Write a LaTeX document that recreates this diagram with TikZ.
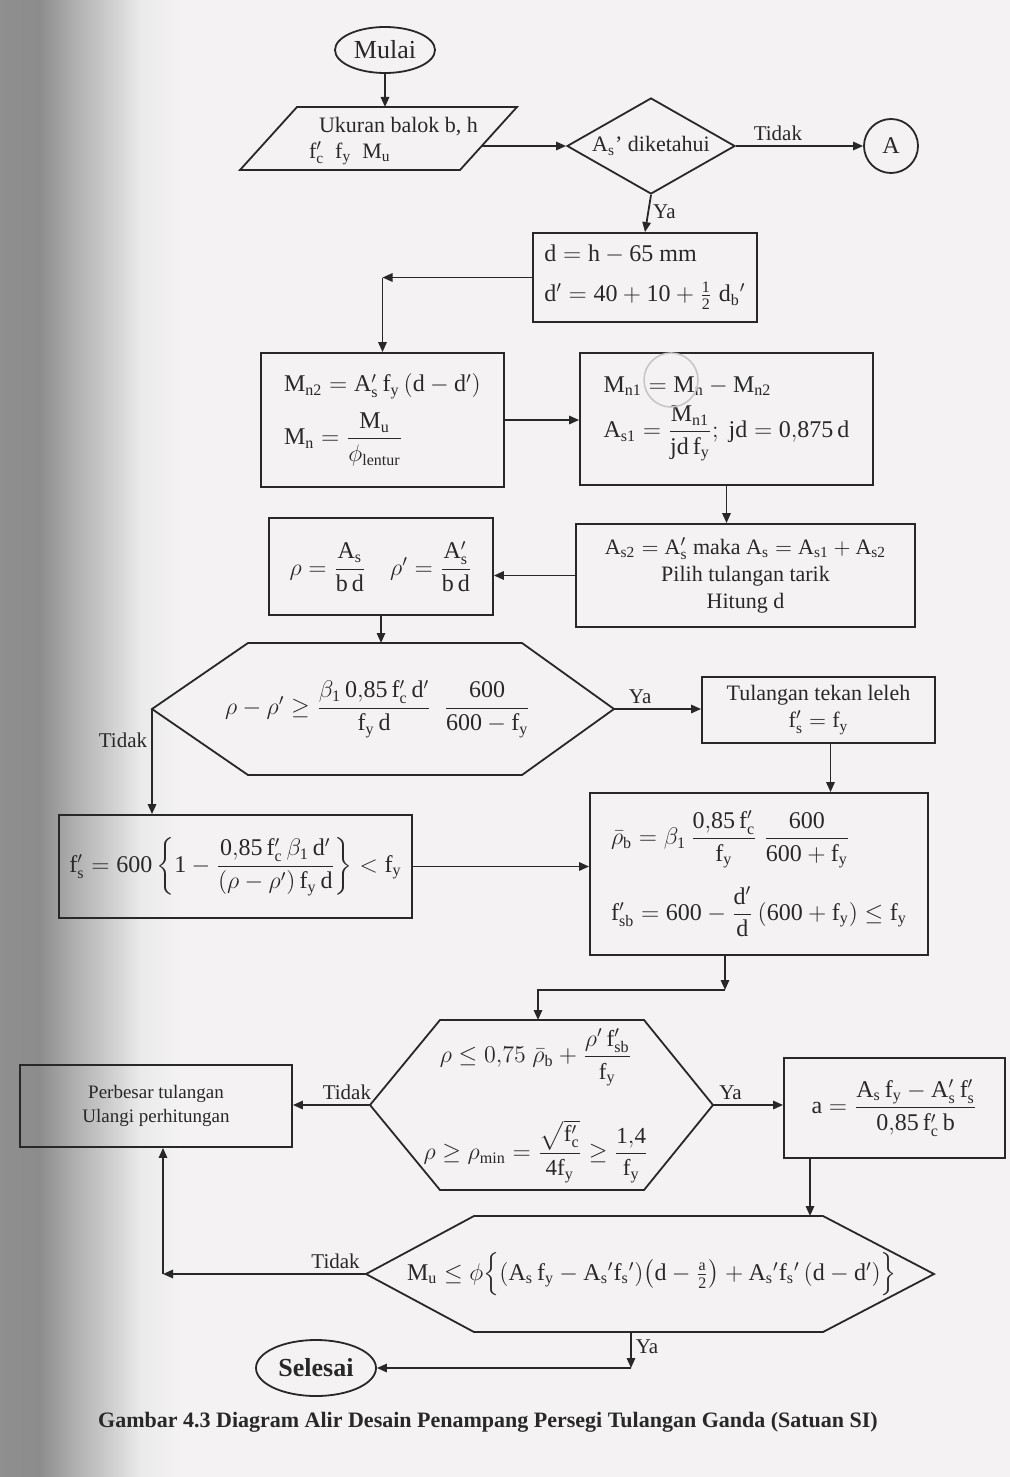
\documentclass[tikz,border=0pt]{standalone}
\usepackage{amsmath}
\usepackage{fontspec}
\setmainfont{Liberation Serif}
\usetikzlibrary{arrows.meta,shapes.geometric}
\definecolor{paper}{RGB}{244,242,242}
\definecolor{ink}{RGB}{40,40,40}
\pgfdeclarehorizontalshading{scanedge}{100bp}{color(0bp)=(black!44); color(25bp)=(black!44); color(36bp)=(black!45); color(45bp)=(black!32); color(55bp)=(black!20); color(64bp)=(black!8); color(75bp)=(paper); color(100bp)=(paper)}
\begin{document}
\begin{tikzpicture}[x=0.5pt,y=-0.5pt,
  every node/.style={text=ink},
  inkline/.style={draw=ink, line width=0.9pt},
  conn/.style={inkline, -{Triangle[length=5pt,width=4.2pt]}},
  pbox/.style={inkline, rectangle, inner sep=0pt},
  txt/.style={font=\fontsize{11}{13.5}\selectfont},
  fml/.style={font=\fontsize{12}{14}\selectfont},
  lbl/.style={font=\fontsize{10.5}{12}\selectfont, inner sep=2pt}]
\useasboundingbox (0,0) rectangle (1010,1477);
\fill[paper] (0,0) rectangle (1010,1477);
\shade[shading=scanedge] (0,0) rectangle (180,1477);

% ---- start
\node[inkline, ellipse, minimum width=50pt, minimum height=23pt, inner sep=0pt, font=\fontsize{13}{15}\selectfont] (mulai) at (385,50) {Mulai};

% ---- input
\coordinate (pTL) at (297,107); \coordinate (pTR) at (517,107);
\coordinate (pBR) at (460,170); \coordinate (pBL) at (240,170);
\draw[inkline] (pTL) -- (pTR) -- (pBR) -- (pBL) -- cycle;
\coordinate (pT) at (385,107);
\coordinate (pR) at (481,146);
\node[txt, anchor=west] (in1) at (312,127) {Ukuran balok b, h};
\node[txt, anchor=west] (in2) at (302,153) {$\mathrm{f_c'\ \ f_y\ \ M_u}$};

% ---- decision As'
\node[inkline, diamond, aspect=1.75, minimum width=84pt, minimum height=48pt, inner sep=0pt, txt] (dk) at (651,146) {$\mathrm{A_s}$' diketahui};
\node[inkline, circle, minimum size=27pt, inner sep=0pt, font=\fontsize{12}{14}\selectfont] (A) at (891,146) {A};

% ---- d box
\node[pbox, fml, align=left, minimum width=112pt, minimum height=44.5pt] (dbox) at (645,277.5)
 {$\mathrm{d = h - 65\ mm}$\\[6pt] $\mathrm{d' = 40 + 10 + \tfrac{1}{2}\;d_b{}'}$};

% ---- Mn2 box
\node[pbox, fml, align=left, minimum width=121.5pt, minimum height=67pt] (mn2) at (382.5,420)
 {$\mathrm{M_{n2} = A_s'\,f_y\,(d - d')}$\\[6pt] $\mathrm{M_n = \dfrac{M_u}{\phi_{lentur}}}$};

% ---- Mn1 box
\node[pbox, fml, align=left, minimum width=146.5pt, minimum height=66pt] (mn1) at (726.5,419)
 {$\mathrm{M_{n1} = M_n - M_{n2}}$\\[4pt] $\mathrm{A_{s1} = \dfrac{M_{n1}}{jd\,f_y};\ jd = 0{,}875\,d}$};
\draw[black!22, line width=0.8pt] (671,380) circle[radius=27];

% ---- As2 box
\node[pbox, txt, align=center, minimum width=169.5pt, minimum height=51.5pt] (as2) at (745.5,575.5)
 {$\mathrm{A_{s2} = A_s'}$ maka $\mathrm{A_s = A_{s1} + A_{s2}}$\\ Pilih tulangan tarik\\ Hitung d};

% ---- rho box
\node[pbox, fml, minimum width=112pt, minimum height=48.5pt] (rho) at (381,566.5)
 {$\rho = \dfrac{\mathrm{A_s}}{\mathrm{b\,d}}\quad \rho' = \dfrac{\mathrm{A_s'}}{\mathrm{b\,d}}$};

% ---- hexagon 1
\coordinate (h1L) at (152,709); \coordinate (h1TL) at (248,643); \coordinate (h1TR) at (522,643);
\coordinate (h1R) at (614,709); \coordinate (h1BR) at (522,775); \coordinate (h1BL) at (248,775);
\draw[inkline] (h1L) -- (h1TL) -- (h1TR) -- (h1R) -- (h1BR) -- (h1BL) -- cycle;
\coordinate (h1T) at (381,643);
\node[fml] (h1) at (378,709)
 {$\rho - \rho' \ge \dfrac{\mathrm{\beta_1\,0{,}85\,f_c'\,d'}}{\mathrm{f_y\,d}}\ \ \dfrac{\mathrm{600}}{\mathrm{600 - f_y}}$};

% ---- Tulangan box
\node[pbox, txt, align=center, minimum width=116.5pt, minimum height=33pt] (tul) at (818.5,710)
 {Tulangan tekan leleh\\ $\mathrm{f_s' = f_y}$};

% ---- fs box
\node[pbox, fml, minimum width=176.5pt, minimum height=51.5pt] (fs) at (235.5,866.5)
 {$\mathrm{f_s' = 600\left\{1 - \dfrac{0{,}85\,f_c'\,\beta_1\,d'}{(\rho - \rho')\,f_y\,d}\right\} < f_y}$};

% ---- rho_b box
\node[pbox, fml, align=left, minimum width=169pt, minimum height=81pt] (rhob) at (759,874)
 {$\bar{\rho}_{\mathrm b} = \mathrm{\beta_1\,\dfrac{0{,}85\,f_c'}{f_y}\ \dfrac{600}{600 + f_y}}$\\[8pt]
  $\mathrm{f_{sb}' = 600 - \dfrac{d'}{d}\left(600 + f_y\right) \le f_y}$};

% ---- hexagon 2
\coordinate (h2L) at (370,1105); \coordinate (h2TL) at (440,1020); \coordinate (h2TR) at (644,1020);
\coordinate (h2R) at (713,1105); \coordinate (h2BR) at (644,1190); \coordinate (h2BL) at (440,1190);
\draw[inkline] (h2L) -- (h2TL) -- (h2TR) -- (h2R) -- (h2BR) -- (h2BL) -- cycle;
\coordinate (h2T) at (538,1020);
\node[font=\fontsize{11.5}{13.5}\selectfont, align=center] (h2) at (536,1106)
 {$\rho \le 0{,}75\;\bar{\rho}_{\mathrm b} + \dfrac{\rho'\,\mathrm{f_{sb}'}}{\mathrm{f_y}}$\\[16pt]
  $\rho \ge \rho_{\mathrm{min}} = \dfrac{\sqrt{\mathrm{f_c'}}}{\mathrm{4f_y}} \ge \dfrac{\mathrm{1{,}4}}{\mathrm{f_y}}$};

% ---- Perbesar box
\node[pbox, font=\fontsize{9.5}{12}\selectfont, align=center, minimum width=136pt, minimum height=41pt] (pb) at (156,1106)
 {Perbesar tulangan\\ Ulangi perhitungan};

% ---- box a
\node[pbox, fml, minimum width=110.5pt, minimum height=50pt] (ba) at (894.5,1108)
 {$\mathrm{a = \dfrac{A_s\,f_y - A_s'\,f_s'}{0{,}85\,f_c'\,b}}$};

% ---- hexagon 3
\coordinate (h3L) at (366,1274); \coordinate (h3TL) at (474,1216); \coordinate (h3TR) at (823,1216);
\coordinate (h3R) at (934,1274); \coordinate (h3BR) at (823,1332); \coordinate (h3BL) at (474,1332);
\draw[inkline] (h3L) -- (h3TL) -- (h3TR) -- (h3R) -- (h3BR) -- (h3BL) -- cycle;
\coordinate (h3T) at (810,1216); \coordinate (h3B) at (631,1332);
\node[fml] (h3) at (652,1274)
 {$\mathrm{M_u \le \phi\Big\{\!\left(A_s\,f_y - A_s{}'f_s{}'\right)\!\left(d - \tfrac{a}{2}\right) + A_s{}'f_s{}'\left(d - d'\right)\!\Big\}}$};

% ---- end
\node[inkline, ellipse, minimum width=60pt, minimum height=28pt, inner sep=0pt, font=\fontsize{13}{15}\selectfont\bfseries] (sel) at (316,1368) {Selesai};

% ---- caption
\node[font=\fontsize{11}{13}\selectfont\bfseries] (cap) at (488,1422)
 {Gambar 4.3 Diagram Alir Desain Penampang Persegi Tulangan Ganda (Satuan SI)};

% ---- connectors
\draw[conn] (mulai.south) -- (pT);
\draw[conn] (pR) -- (dk.west);
\draw[conn] (dk.east) -- node[lbl, above, pos=0.33] {Tidak} (A.west);
\draw[conn] (dk.south) -- node[lbl, right, pos=0.45] {Ya} (dbox.north);
\coordinate (c1) at (dbox.west -| mn2.north);
\draw[conn] (dbox.west) -- (c1);
\draw[conn] (c1) -- (mn2.north);
\draw[conn] (mn2.east) -- (mn2.east -| mn1.west);
\draw[conn] (mn1.south) -- (mn1.south |- as2.north);
\draw[conn] (as2.west) -- (as2.west -| rho.east);
\draw[conn] (rho.south) -- (h1T);
\draw[conn] (h1R) -- node[lbl, above, pos=0.3] {Ya} (h1R -| tul.west);
\draw[conn] (h1L) -- node[lbl, left, pos=0.3] {Tidak} (h1L |- fs.north);
\draw[conn] ([xshift=6pt]tul.south) -- ([xshift=6pt]tul.south |- rhob.north);
\draw[conn] (fs.east) -- (fs.east -| rhob.west);
\coordinate (c2) at (725,990); \coordinate (c3) at (538,990);
\draw[conn] (rhob.south -| c2) -- (c2);
\draw[conn] (c2) -- (c3) -- (h2T);
\draw[conn] (h2L) -- node[lbl, above, pos=0.3] {Tidak} (h2L -| pb.east);
\draw[conn] (h2R) -- node[lbl, above, pos=0.25] {Ya} (h2R -| ba.west);
\draw[conn] (ba.south -| h3T) -- (h3T);
\coordinate (c4) at (163,1274);
\draw[conn] (h3L) -- node[lbl, above, pos=0.15] {Tidak} (c4);
\draw[conn] (c4) -- (c4 |- pb.south);
\coordinate (c5) at (631,1368);
\draw[conn] (h3B) -- node[lbl, right, pos=0.4] {Ya} (c5);
\draw[conn] (c5) -- (sel.east);
\end{tikzpicture}
\end{document}
